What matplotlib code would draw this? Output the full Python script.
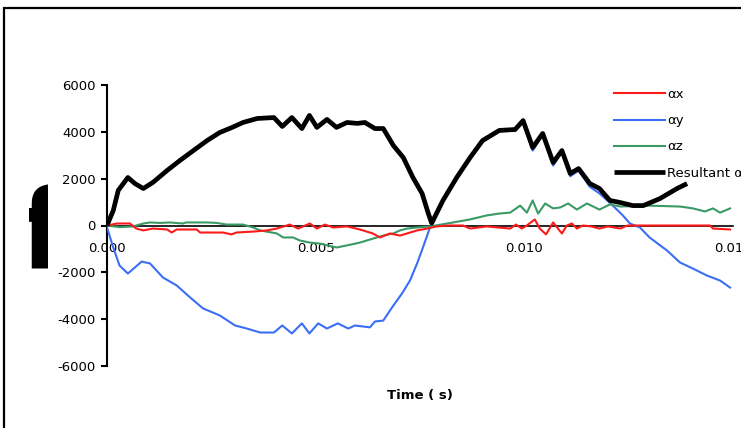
import matplotlib
matplotlib.use("Agg")
import matplotlib.pyplot as plt
from matplotlib.patches import Rectangle
from matplotlib.transforms import Bbox, TransformedBbox

# ---------------- data ----------------
t_res = [0, 0.00015, 0.00027, 0.0005, 0.00067, 0.00087, 0.0011, 0.00144, 0.00175, 0.00207,
         0.0024, 0.0027, 0.003, 0.00326, 0.0036, 0.004, 0.0042, 0.00443, 0.00467, 0.00485,
         0.00503, 0.00527, 0.0055, 0.00575, 0.006, 0.00618, 0.00642, 0.00662, 0.00686, 0.0071,
         0.00733, 0.00755, 0.0077, 0.00778, 0.00805, 0.00838, 0.0087, 0.009, 0.0094, 0.00978,
         0.00997, 0.0102, 0.01044, 0.01069, 0.0109, 0.0111, 0.0113, 0.01157, 0.0118, 0.01205,
         0.0123, 0.0126, 0.01285, 0.01325, 0.01366, 0.0139]
a_res = [0, 640, 1500, 2050, 1790, 1580, 1840, 2350, 2780, 3200,
         3630, 3970, 4190, 4400, 4570, 4610, 4230, 4610, 4140, 4700,
         4190, 4530, 4190, 4400, 4360, 4400, 4140, 4140, 3420, 2900,
         2050, 1370, 510, 100, 1070, 2050, 2900, 3630, 4060, 4100,
         4480, 3330, 3930, 2690, 3200, 2220, 2430, 1790, 1580, 1070,
         980, 850, 850, 1150, 1580, 1790]

t_y = [0, 0.00015, 0.0003, 0.0005, 0.00067, 0.00083, 0.00103, 0.00134, 0.00167, 0.00199,
       0.0023, 0.0027, 0.00307, 0.00335, 0.00367, 0.004, 0.0042, 0.00443, 0.00467, 0.00485,
       0.00506, 0.00527, 0.00553, 0.00578, 0.00594, 0.0063, 0.00642, 0.00662, 0.00683, 0.00707,
       0.00726, 0.00743, 0.00757, 0.00774,
       0.00805, 0.00838, 0.0087, 0.009, 0.0094, 0.00978, 0.00997, 0.0102, 0.01044, 0.01069,
       0.0109, 0.0111, 0.0113, 0.01157,
       0.0118, 0.01212, 0.01236, 0.01253, 0.01277, 0.0130, 0.01342, 0.01373, 0.01404, 0.01438,
       0.01469, 0.01493]
a_y = [-80, -940, -1710, -2050, -1790, -1540, -1620, -2220, -2560, -3070,
       -3540, -3840, -4270, -4400, -4570, -4570, -4270, -4610, -4180, -4610,
       -4180, -4400, -4180, -4400, -4270, -4350, -4100, -4060, -3500, -2900,
       -2350, -1620, -940, -80,
       1000, 2000, 2850, 3580, 4020, 4060, 4440, 3200, 3880, 2560,
       3150, 2100, 2350, 1650,
       1370, 850, 430, 85, -85, -510, -1070, -1580, -1840, -2140,
       -2350, -2650]

t_z = [0, 0.0003, 0.00062, 0.00087, 0.00103, 0.00127, 0.0015, 0.00182, 0.0019, 0.00223,
       0.0024, 0.00263, 0.00287, 0.003, 0.00326, 0.0035, 0.00367, 0.00407, 0.00422, 0.00446,
       0.00462, 0.00486, 0.0051, 0.0055, 0.00575, 0.00606, 0.0063, 0.00662, 0.00686, 0.00702,
       0.00719, 0.00743, 0.00774, 0.0083, 0.0087, 0.0091, 0.0094, 0.00966, 0.0099, 0.01006,
       0.0102, 0.01033, 0.0105, 0.01069, 0.01086, 0.01105, 0.01126, 0.0115, 0.0118, 0.01205,
       0.0123, 0.01294, 0.01373, 0.01404, 0.01433, 0.01452, 0.01469, 0.01493]
a_z = [0, -70, -40, 85, 130, 110, 130, 85, 130, 130,
       130, 110, 40, 40, 40, -85, -210, -340, -510, -510,
       -640, -730, -770, -940, -850, -730, -600, -430, -340, -210,
       -130, -85, -40, 130, 260, 430, 510, 550, 850, 550,
       1070, 510, 940, 730, 770, 940, 680, 940, 680, 900,
       810, 850, 810, 730, 600, 730, 550, 730]

t_x = [0, 0.00024, 0.00055, 0.0007, 0.00087, 0.0011, 0.00144, 0.00155, 0.00167, 0.00215,
       0.00223, 0.00278, 0.00298, 0.0031, 0.0035, 0.00383, 0.00407, 0.00438, 0.00458, 0.00486,
       0.00503, 0.00522, 0.00542, 0.00575, 0.00606, 0.00637, 0.00654, 0.00678, 0.00702, 0.00743,
       0.00767, 0.0079, 0.0082, 0.00853, 0.0087, 0.0091, 0.00966, 0.0098, 0.00994, 0.01006,
       0.01025, 0.01037, 0.01052, 0.01069, 0.0109, 0.01102, 0.01114, 0.01126, 0.0114, 0.0116,
       0.0118, 0.0120, 0.0123, 0.01247, 0.0138, 0.01445, 0.01452, 0.01493]
a_x = [0, 85, 85, -130, -210, -130, -170, -300, -170, -170,
       -300, -300, -380, -300, -260, -210, -130, 40, -130, 85,
       -130, 40, -85, -40, -170, -340, -510, -340, -430, -210,
       -130, -40, 0, 0, -130, -40, -130, 40, -130, 0,
       260, -130, -380, 130, -340, 0, 85, -130, 0, -40,
       -130, -40, -130, 0, 0, 0, -130, -170]

series_labels = ["\u03b1x", "\u03b1y", "\u03b1z", "Resultant \u03b1"]
x_ticks = [0.000, 0.005, 0.010, 0.015]
x_ticklabels = ["0.000", "0.005", "0.010", "0.015"]
y_ticks = [6000, 4000, 2000, 0, -2000, -4000, -6000]
y_ticklabels = ["6000", "4000", "2000", "0", "-2000", "-4000", "-6000"]
x_label = "Time ( s)"
panel_label = "f"

# ---------------- figure ----------------
W, H = 741, 428
fig = plt.figure(figsize=(W / 100, H / 100), dpi=100)
fig.patch.set_facecolor("white")

ax = fig.add_axes([107 / W, 1 - 366 / H, (733 - 107) / W, (366 - 85) / H])
ax.set_xlim(0, 0.015)
ax.set_ylim(-6000, 6000)

col_x, col_y, col_z = "#ff1a1a", "#3a6ef5", "#3a9a66"
lx, = ax.plot(t_x, a_x, color=col_x, lw=1.5, zorder=4)
ly, = ax.plot(t_y, a_y, color=col_y, lw=1.5, zorder=3)
lz, = ax.plot(t_z, a_z, color=col_z, lw=1.5, zorder=3.5)
lr, = ax.plot(t_res, a_res, color="black", lw=3.4, zorder=5,
              solid_joinstyle="round", solid_capstyle="butt")

# spines
for s in ["top", "right"]:
    ax.spines[s].set_visible(False)
ax.spines["bottom"].set_position(("data", 0))
ax.spines["bottom"].set_linewidth(1.2)
ax.spines["bottom"].set_zorder(2)
ax.spines["left"].set_linewidth(1.5)

ax.set_xticks(x_ticks)
ax.set_xticklabels(x_ticklabels)
ax.set_yticks(y_ticks)
ax.set_yticklabels(y_ticklabels)
ax.tick_params(axis="x", length=0, pad=12, labelsize=9.5)
ax.tick_params(axis="y", direction="out", length=4, width=1.5, pad=4, labelsize=9.5)
for lab in ax.get_xticklabels() + ax.get_yticklabels():
    lab.set_fontweight("medium")

fig.text(420 / W, 1 - 396 / H, x_label, ha="center", va="center",
         fontsize=9.5, fontweight="bold")

# legend
leg = fig.legend([lx, ly, lz, lr], series_labels, loc="upper left",
                 bbox_to_anchor=(614 / W, 1 - 88 / H), frameon=False,
                 fontsize=9.5, handlelength=3.9, handletextpad=0.15,
                 labelspacing=1.0, borderaxespad=0, borderpad=0)

# panel label "f" (clipped at both sides)
ftxt = fig.text(20 / W, 1 - 268 / H, panel_label, ha="left", va="baseline",
                fontsize=80, fontweight="bold", color="black")
clip = TransformedBbox(Bbox([[29 / W, 0], [48.5 / W, 1]]), fig.transFigure)
ftxt.set_clip_box(clip)
ftxt.set_clip_on(True)

# outer frame (continues past the image edge)
frame = Rectangle((4 / W, -0.2), 1.2, (1 - 8 / H) + 0.2, transform=fig.transFigure,
                  fill=False, edgecolor="black", lw=1.6, clip_on=False)
fig.patches.append(frame)

fig.savefig("out.png", dpi=100, facecolor="white")
